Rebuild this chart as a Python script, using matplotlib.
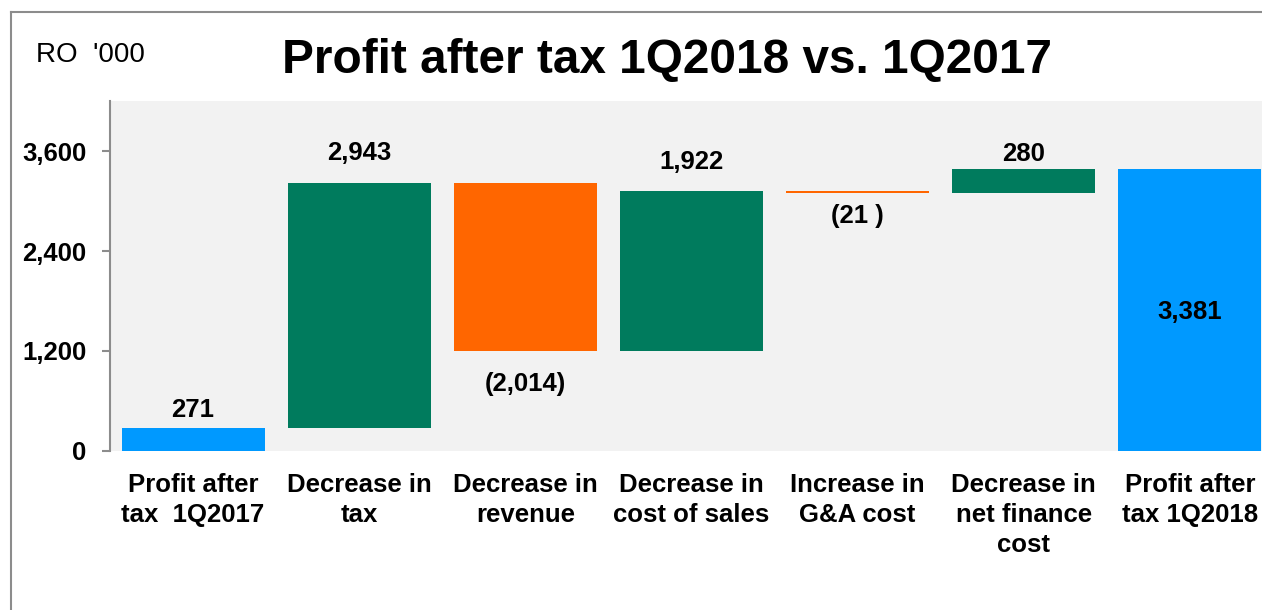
import matplotlib
matplotlib.use("Agg")
import matplotlib.pyplot as plt
from matplotlib.lines import Line2D

plt.rcParams["font.family"] = ["Liberation Sans", "DejaVu Sans"]

# Data (RO '000)
categories = ["Profit after\ntax  1Q2017", "Decrease in\ntax", "Decrease in\nrevenue",
              "Decrease in\ncost of sales", "Increase in\nG&A cost",
              "Decrease in\nnet finance\ncost", "Profit after\ntax 1Q2018"]
start_value = 271
changes = [2943, -2014, 1922, -21, 280]
value_labels = ["271", "2,943", "(2,014)", "1,922", "(21 )", "280", "3,381"]
y_ticks = [0, 1200, 2400, 3600]
y_tick_labels = ["0", "1,200", "2,400", "3,600"]

green = "#007B5D"
orange = "#FF6600"
blue = "#0099FF"
grey = "#8C8C8C"

# build waterfall bottoms / heights
bottoms = [0]
heights = [start_value]
colors = [blue]
running = start_value
for c in changes:
    if c >= 0:
        bottoms.append(running)
        heights.append(c)
        colors.append(green)
    else:
        bottoms.append(running + c)
        heights.append(-c)
        colors.append(orange)
    running += c
bottoms.append(0)
heights.append(running)
colors.append(blue)

fig = plt.figure(figsize=(12.62, 6.10), dpi=100)
ax = fig.add_axes([110 / 1262, 159 / 610, 1163 / 1262, 350 / 610])
ax.set_facecolor("#F2F2F2")

x = list(range(len(categories)))
ax.bar(x, heights, bottom=bottoms, width=0.86, color=colors)

# data labels (offsets in points, positive = up)
offsets = [13, 22, 24, 21, 17, 11]
for i in range(len(categories)):
    top = bottoms[i] + heights[i]
    if i == len(categories) - 1:
        ax.annotate(value_labels[i], (i, bottoms[i] + heights[i] / 2), xytext=(0, -1),
                    textcoords="offset points", ha="center",
                    va="center", fontsize=18.5, fontweight="bold")
    elif i > 0 and changes[i - 1] < 0:
        ax.annotate(value_labels[i], (i, bottoms[i]), xytext=(0, -offsets[i]),
                    textcoords="offset points", ha="center", va="center",
                    fontsize=18.5, fontweight="bold")
    else:
        ax.annotate(value_labels[i], (i, top), xytext=(0, offsets[i]),
                    textcoords="offset points", ha="center", va="center",
                    fontsize=18.5, fontweight="bold")

ax.set_xlim(-0.5, 6.5)
ax.set_ylim(0, 4200)
ax.set_xticks(x)
ax.set_xticklabels(categories, fontsize=18.5, fontweight="bold", linespacing=1.33)
ax.set_yticks(y_ticks)
ax.set_yticklabels(y_tick_labels, fontsize=18.5, fontweight="bold")
ax.tick_params(axis="x", length=0, pad=15.5)
ax.tick_params(axis="y", length=6, width=1.5, color=grey, pad=11)

for s in ["top", "right", "bottom"]:
    ax.spines[s].set_visible(False)
ax.spines["left"].set_color(grey)
ax.spines["left"].set_linewidth(1.5)

# outer frame lines
fig.add_artist(Line2D([11 / 1262, 11 / 1262], [0, 598 / 610], color=grey, lw=1.5))
fig.add_artist(Line2D([11 / 1262, 1], [598 / 610, 598 / 610], color=grey, lw=1.5))

fig.text(667 / 1262, 1 - 60 / 610, "Profit after tax 1Q2018 vs. 1Q2017", ha="center",
         va="center", fontsize=34.4, fontweight="bold")
fig.text(36 / 1262, 1 - 55 / 610, "RO  '000", ha="left", va="center", fontsize=20)

fig.savefig("out.png", dpi=100)
